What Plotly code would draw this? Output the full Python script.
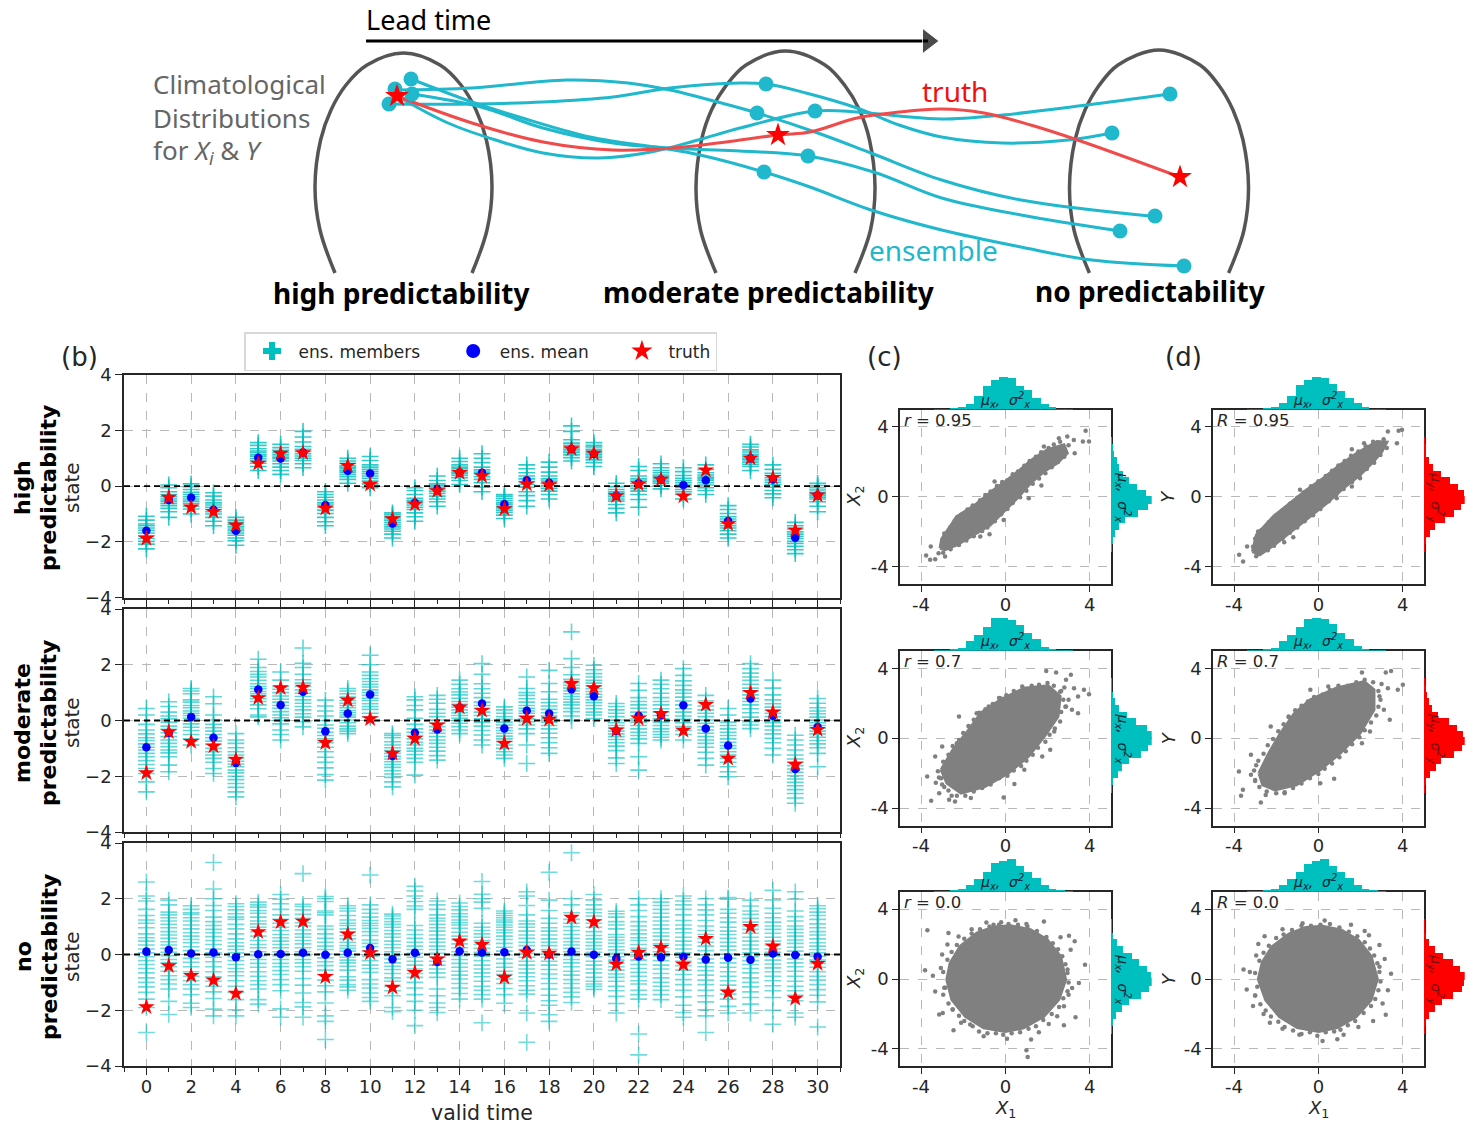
import plotly.graph_objects as go

W, H = 1475, 1129
TEAL = "#00BFBF"
SCH = "#1FB8CC"
DARK = "#262626"
GRID = "#B8B8B8"
FONT = "DejaVu Sans"
SFONT = "Noto Sans"

# ---------------- time-series data -----------------
valid_time = list(range(31))
truth = [-1.88,-0.41,-0.76,-0.92,-1.40,0.81,1.17,1.19,-0.80,0.73,0.06,-1.18,-0.65,-0.17,0.48,0.36,-0.82,0.07,0.04,1.33,1.17,-0.35,0.07,0.24,-0.36,0.57,-1.36,1.00,0.30,-1.58,-0.33]
high_mean = [-1.60,-0.50,-0.41,-0.85,-1.60,1.02,0.99,1.20,-0.68,0.55,0.45,-1.34,-0.60,-0.12,0.49,0.48,-0.65,0.21,0.12,1.33,1.15,-0.35,0.10,0.24,0.04,0.21,-1.25,1.00,0.24,-1.85,-0.33]
mod_mean = [-0.96,-0.44,0.13,-0.62,-1.52,1.11,0.56,1.03,-0.39,0.25,0.93,-1.27,-0.44,-0.32,0.47,0.61,-0.29,0.35,0.25,1.12,0.87,-0.37,0.17,0.19,0.55,-0.29,-0.90,0.79,0.17,-1.74,-0.23]
none_mean = [0.11,0.16,0.04,0.07,-0.10,0.01,0.02,0.06,-0.01,0.06,0.23,-0.17,0.06,-0.27,0.12,0.07,0.08,0.16,0.00,0.11,-0.01,-0.14,-0.07,-0.10,-0.08,-0.18,-0.12,-0.19,0.04,-0.02,-0.08]

high_members = [
 [-2.25,-2.08,-1.98,-1.88,-1.78,-1.68,-1.58,-1.5,-1.42,-1.36,-1.22,-1.08],
 [-1.12,-0.92,-0.8,-0.7,-0.62,-0.54,-0.46,-0.38,-0.3,-0.2,-0.06,0.04],
 [-1.0,-0.82,-0.72,-0.62,-0.54,-0.46,-0.38,-0.3,-0.22,-0.12,-0.02,0.08],
 [-1.42,-1.26,-1.12,-1.0,-0.92,-0.84,-0.76,-0.68,-0.6,-0.5,-0.36,-0.24],
 [-2.12,-1.96,-1.86,-1.76,-1.68,-1.6,-1.54,-1.46,-1.38,-1.3,-1.22,-1.12],
 [0.56,0.7,0.82,0.9,0.98,1.06,1.12,1.2,1.26,1.34,1.46,1.56],
 [0.42,0.56,0.68,0.8,0.9,0.98,1.04,1.12,1.2,1.28,1.38,1.5],
 [0.66,0.8,0.92,1.0,1.08,1.16,1.24,1.32,1.42,1.58,1.76,1.96],
 [-1.42,-1.28,-1.12,-0.98,-0.86,-0.76,-0.68,-0.6,-0.5,-0.4,-0.3,-0.2],
 [0.1,0.24,0.34,0.42,0.5,0.56,0.62,0.68,0.74,0.82,0.9,1.0],
 [-0.06,0.08,0.18,0.28,0.36,0.44,0.52,0.6,0.68,0.76,0.92,1.06],
 [-1.86,-1.72,-1.62,-1.54,-1.46,-1.38,-1.3,-1.22,-1.14,-1.08,-1.02,-0.96],
 [-1.26,-1.1,-0.96,-0.84,-0.76,-0.68,-0.6,-0.52,-0.44,-0.3,-0.16,-0.06],
 [-0.72,-0.56,-0.46,-0.36,-0.26,-0.18,-0.1,-0.04,0.02,0.08,0.2,0.36],
 [0.06,0.2,0.3,0.38,0.44,0.5,0.56,0.62,0.68,0.76,0.88,1.0],
 [-0.2,-0.04,0.12,0.24,0.34,0.44,0.5,0.58,0.68,0.84,1.0,1.16],
 [-1.16,-1.04,-0.94,-0.86,-0.78,-0.72,-0.66,-0.6,-0.52,-0.44,-0.36,-0.3],
 [-0.72,-0.52,-0.34,-0.2,-0.04,0.06,0.16,0.26,0.36,0.48,0.62,0.76],
 [-0.46,-0.3,-0.18,-0.08,0.02,0.1,0.18,0.26,0.36,0.5,0.68,0.86],
 [0.9,1.02,1.12,1.2,1.26,1.32,1.38,1.46,1.54,1.66,1.96,2.16],
 [0.7,0.84,0.94,1.02,1.08,1.14,1.2,1.26,1.32,1.4,1.46,1.56],
 [-0.96,-0.8,-0.66,-0.54,-0.46,-0.38,-0.32,-0.26,-0.2,-0.12,-0.02,0.1],
 [-0.76,-0.48,-0.3,-0.18,-0.08,0.02,0.1,0.18,0.26,0.36,0.56,0.7],
 [-0.1,0.02,0.1,0.16,0.22,0.28,0.34,0.4,0.48,0.56,0.66,0.8],
 [-0.46,-0.3,-0.2,-0.12,-0.04,0.04,0.12,0.2,0.28,0.38,0.52,0.66],
 [-0.3,-0.16,-0.06,0.04,0.12,0.2,0.26,0.32,0.4,0.48,0.6,0.76],
 [-1.86,-1.72,-1.6,-1.5,-1.42,-1.34,-1.26,-1.18,-1.1,-0.98,-0.84,-0.7],
 [0.56,0.7,0.78,0.86,0.94,1.0,1.06,1.14,1.22,1.3,1.4,1.5],
 [-0.42,-0.28,-0.16,-0.04,0.06,0.14,0.22,0.3,0.38,0.46,0.6,0.76],
 [-2.42,-2.28,-2.16,-2.06,-1.98,-1.88,-1.8,-1.72,-1.64,-1.54,-1.42,-1.3],
 [-0.92,-0.72,-0.56,-0.46,-0.4,-0.34,-0.28,-0.22,-0.14,-0.06,0.02,0.1],
]
mod_members = [
 [-2.56,-2.2,-1.9,-1.72,-1.58,-1.44,-1.3,-1.18,-1.06,-0.96,-0.84,-0.72,-0.62,-0.48,-0.34,-0.14,0.2,0.43],
 [-1.84,-1.6,-1.3,-1.16,-1.06,-0.94,-0.82,-0.7,-0.58,-0.44,-0.32,-0.2,-0.06,0.06,0.16,0.3,0.5,0.67],
 [-0.88,-0.66,-0.5,-0.36,-0.24,-0.12,-0.02,0.08,0.18,0.26,0.34,0.46,0.54,0.66,0.74,0.96,1.06,1.15],
 [-1.9,-1.72,-1.5,-1.36,-1.24,-1.12,-1.0,-0.86,-0.74,-0.62,-0.5,-0.38,-0.26,-0.14,0.02,0.2,0.6,0.85],
 [-2.74,-2.56,-2.4,-2.26,-2.12,-2.0,-1.88,-1.78,-1.66,-1.56,-1.46,-1.36,-1.24,-1.12,-0.98,-0.82,-0.7,-0.47],
 [0.13,0.2,0.42,0.56,0.68,0.78,0.86,0.96,1.04,1.14,1.22,1.32,1.44,1.56,1.66,1.76,1.9,2.2],
 [-0.7,-0.5,-0.34,-0.12,0.0,0.1,0.2,0.32,0.44,0.54,0.66,0.76,0.88,1.0,1.12,1.22,1.45,1.74],
 [-0.23,-0.04,0.12,0.24,0.38,0.5,0.62,0.74,0.86,0.98,1.1,1.22,1.34,1.46,1.66,1.9,2.05,2.6],
 [-2.14,-1.94,-1.7,-1.5,-1.32,-1.12,-0.96,-0.8,-0.66,-0.54,-0.42,-0.28,-0.16,0.0,0.16,0.34,0.52,0.73],
 [-0.47,-0.38,-0.3,-0.2,-0.08,0.02,0.12,0.2,0.28,0.36,0.46,0.54,0.62,0.72,0.84,0.96,1.06,1.15],
 [0.13,0.26,0.4,0.5,0.6,0.72,0.8,0.9,1.0,1.1,1.2,1.3,1.4,1.5,1.62,1.74,2.0,2.34],
 [-2.38,-2.2,-2.04,-1.92,-1.8,-1.68,-1.58,-1.48,-1.38,-1.28,-1.18,-1.08,-0.98,-0.88,-0.76,-0.62,-0.54,-0.47],
 [-1.96,-1.5,-1.36,-1.22,-1.1,-1.0,-0.88,-0.78,-0.66,-0.54,-0.42,-0.3,-0.14,0.08,0.38,0.54,0.74,0.85],
 [-1.42,-1.26,-1.1,-0.96,-0.82,-0.7,-0.58,-0.46,-0.34,-0.22,-0.1,0.02,0.14,0.26,0.4,0.62,0.76,0.9],
 [-0.47,-0.34,-0.22,-0.1,0.0,0.08,0.18,0.28,0.38,0.48,0.58,0.68,0.8,0.92,1.02,1.14,1.3,1.45],
 [-0.88,-0.7,-0.52,-0.36,-0.2,-0.06,0.06,0.18,0.3,0.42,0.54,0.66,0.82,0.98,1.14,1.32,1.66,2.04],
 [-1.36,-1.24,-1.12,-1.0,-0.88,-0.76,-0.66,-0.56,-0.46,-0.36,-0.26,-0.16,-0.06,0.04,0.14,0.26,0.38,0.49],
 [-1.54,-0.88,-0.47,-0.3,-0.16,-0.04,0.06,0.16,0.26,0.34,0.44,0.54,0.66,0.78,0.9,1.0,1.15,1.56],
 [-1.18,-0.98,-0.8,-0.62,-0.46,-0.3,-0.18,-0.06,0.06,0.16,0.28,0.4,0.52,0.64,0.76,1.03,1.33,1.8],
 [0.0,0.16,0.32,0.44,0.56,0.66,0.76,0.86,0.96,1.06,1.16,1.26,1.36,1.48,1.64,1.9,2.22,3.18],
 [0.07,0.2,0.3,0.42,0.54,0.64,0.74,0.84,0.94,1.04,1.14,1.24,1.34,1.44,1.56,1.68,1.82,1.98],
 [-1.54,-1.34,-1.08,-0.92,-0.8,-0.68,-0.58,-0.48,-0.38,-0.28,-0.18,-0.08,0.02,0.14,0.26,0.38,0.5,0.61],
 [-1.78,-1.3,-0.82,-0.66,-0.54,-0.42,-0.3,-0.18,-0.06,0.06,0.18,0.3,0.44,0.56,0.68,0.82,1.08,1.33],
 [-0.7,-0.6,-0.5,-0.4,-0.3,-0.18,-0.06,0.06,0.18,0.3,0.42,0.56,0.68,0.82,0.98,1.14,1.3,1.45],
 [-0.7,-0.5,-0.36,-0.22,-0.08,0.04,0.16,0.3,0.42,0.56,0.7,0.84,0.98,1.1,1.26,1.42,1.62,1.86],
 [-1.6,-1.36,-1.14,-0.96,-0.82,-0.7,-0.58,-0.46,-0.34,-0.22,-0.1,0.02,0.14,0.26,0.38,0.52,0.7,0.9],
 [-2.02,-1.84,-1.66,-1.5,-1.36,-1.24,-1.12,-1.0,-0.9,-0.78,-0.66,-0.54,-0.42,-0.3,-0.18,-0.06,0.2,0.43],
 [-0.29,-0.16,-0.04,0.12,0.28,0.42,0.56,0.68,0.8,0.92,1.04,1.16,1.3,1.44,1.56,1.7,1.86,2.04],
 [-1.24,-1.0,-0.8,-0.64,-0.48,-0.34,-0.2,-0.08,0.02,0.14,0.26,0.36,0.48,0.6,0.74,0.92,1.16,1.45],
 [-2.97,-2.78,-2.62,-2.48,-2.34,-2.22,-2.1,-1.98,-1.86,-1.74,-1.62,-1.5,-1.38,-1.24,-1.06,-0.88,-0.7,-0.53],
 [-1.66,-1.18,-0.98,-0.84,-0.72,-0.6,-0.48,-0.38,-0.28,-0.18,-0.08,0.02,0.12,0.24,0.34,0.46,0.62,0.79],
]
none_members = [
 [-2.8,-1.9,-1.6,-1.36,-1.16,-1.0,-0.84,-0.66,-0.5,-0.36,-0.22,-0.08,0.06,0.2,0.34,0.48,0.6,0.74,0.96,1.12,1.24,1.4,1.62,1.92,2.1,2.6],
 [-2.15,-1.68,-1.24,-1.06,-0.9,-0.76,-0.6,-0.44,-0.3,-0.18,-0.04,0.08,0.22,0.34,0.46,0.58,0.7,0.82,0.96,1.08,1.2,1.32,1.42,1.52,1.78,1.95],
 [-1.9,-1.75,-1.44,-1.24,-1.08,-0.94,-0.78,-0.62,-0.44,-0.28,-0.14,0.0,0.14,0.28,0.42,0.54,0.66,0.78,0.92,1.06,1.2,1.32,1.44,1.5,1.62,1.75],
 [-2.2,-1.96,-1.58,-1.34,-1.14,-0.96,-0.8,-0.62,-0.44,-0.26,-0.1,0.06,0.2,0.36,0.5,0.64,0.78,0.9,1.04,1.18,1.34,1.58,1.76,2.0,2.35,3.3],
 [-2.2,-1.98,-1.62,-1.36,-1.14,-0.94,-0.76,-0.62,-0.5,-0.36,-0.22,-0.08,0.06,0.18,0.3,0.42,0.56,0.74,0.92,1.08,1.26,1.34,1.46,1.6,1.72,1.82],
 [-1.78,-1.62,-1.24,-1.08,-0.94,-0.78,-0.62,-0.46,-0.32,-0.18,-0.04,0.1,0.24,0.36,0.5,0.66,0.82,0.98,1.1,1.2,1.34,1.48,1.58,1.7,1.78,1.88],
 [-2.25,-1.95,-1.3,-1.08,-0.9,-0.72,-0.58,-0.44,-0.32,-0.18,-0.04,0.1,0.24,0.36,0.48,0.6,0.72,0.86,0.98,1.12,1.26,1.42,1.62,1.82,1.98,2.15],
 [-2.25,-1.88,-1.72,-1.38,-1.1,-0.86,-0.6,-0.44,-0.3,-0.18,-0.04,0.1,0.24,0.38,0.5,0.62,0.74,0.88,1.02,1.14,1.3,1.44,1.6,1.72,1.8,2.9],
 [-3.05,-2.4,-2.2,-1.74,-1.34,-1.12,-0.92,-0.72,-0.56,-0.4,-0.26,-0.12,0.02,0.18,0.3,0.44,0.58,0.74,0.9,1.02,1.42,1.5,1.56,1.9,2.0,2.08],
 [-1.28,-1.16,-1.08,-0.92,-0.8,-0.56,-0.42,-0.3,-0.2,-0.1,0.0,0.12,0.22,0.32,0.44,0.56,0.68,0.8,0.92,1.04,1.12,1.24,1.4,1.56,1.66,1.75],
 [-1.68,-1.54,-1.38,-1.2,-1.06,-0.9,-0.64,-0.5,-0.38,-0.22,-0.06,0.12,0.28,0.4,0.52,0.68,0.82,0.94,1.04,1.12,1.22,1.34,1.48,1.62,1.78,2.85],
 [-2.05,-1.9,-1.48,-1.3,-1.14,-0.96,-0.84,-0.68,-0.54,-0.42,-0.3,-0.16,-0.04,0.1,0.24,0.36,0.48,0.62,0.74,0.86,0.98,1.08,1.18,1.28,1.38,1.45],
 [-2.55,-2.0,-1.68,-1.44,-1.2,-1.0,-0.82,-0.68,-0.52,-0.38,-0.24,-0.1,0.04,0.18,0.3,0.44,0.58,0.72,0.88,1.04,1.62,1.74,1.9,2.1,2.28,2.45],
 [-2.08,-1.9,-1.74,-1.48,-1.24,-0.82,-0.66,-0.52,-0.38,-0.24,-0.1,0.04,0.18,0.3,0.44,0.56,0.7,0.84,0.96,1.08,1.2,1.3,1.42,1.62,1.78,1.92],
 [-1.6,-1.4,-1.2,-1.04,-0.88,-0.74,-0.6,-0.46,-0.32,-0.18,-0.04,0.1,0.24,0.38,0.52,0.66,0.8,0.94,1.06,1.14,1.24,1.36,1.46,1.6,1.72,1.85],
 [-2.45,-1.6,-1.44,-1.28,-1.14,-0.96,-0.8,-0.66,-0.52,-0.38,-0.22,-0.06,0.08,0.22,0.36,0.5,0.62,0.74,0.86,0.98,1.12,1.66,1.88,2.0,2.16,2.62],
 [-1.75,-1.44,-1.22,-1.04,-0.88,-0.72,-0.6,-0.46,-0.32,-0.16,-0.02,0.12,0.26,0.4,0.54,0.66,0.78,0.88,0.98,1.06,1.16,1.24,1.32,1.4,1.48,1.56],
 [-3.15,-2.1,-1.42,-1.28,-1.12,-0.94,-0.8,-0.66,-0.52,-0.38,-0.24,-0.1,0.04,0.18,0.32,0.44,0.58,0.7,0.84,0.98,1.1,1.2,1.42,1.76,2.1,2.25],
 [-2.4,-2.16,-1.82,-1.66,-1.46,-1.24,-1.04,-0.86,-0.7,-0.54,-0.38,-0.24,-0.1,0.04,0.18,0.32,0.44,0.56,0.7,0.84,0.96,1.12,1.3,1.58,1.95,2.95],
 [-1.72,-1.52,-1.36,-1.2,-1.04,-0.9,-0.74,-0.6,-0.44,-0.3,-0.18,-0.04,0.1,0.22,0.34,0.46,0.58,0.72,0.86,1.0,1.12,1.26,1.5,1.78,2.0,3.65],
 [-1.25,-1.14,-1.06,-0.96,-0.82,-0.66,-0.52,-0.38,-0.24,-0.08,0.08,0.2,0.32,0.44,0.56,0.68,0.82,0.98,1.12,1.24,1.38,1.5,1.62,1.78,1.96,2.15],
 [-2.1,-1.76,-1.5,-1.3,-1.14,-0.96,-0.82,-0.7,-0.56,-0.44,-0.32,-0.2,-0.08,0.04,0.16,0.28,0.4,0.52,0.62,0.72,0.92,1.06,1.18,1.34,1.46,1.55],
 [-3.6,-2.85,-1.6,-1.44,-1.28,-1.06,-0.94,-0.78,-0.64,-0.5,-0.36,-0.2,-0.06,0.08,0.22,0.36,0.5,0.6,0.74,0.88,1.02,1.18,1.36,1.58,1.78,2.0],
 [-1.62,-1.44,-1.28,-1.14,-1.0,-0.84,-0.68,-0.52,-0.38,-0.22,-0.06,0.1,0.24,0.38,0.52,0.66,0.78,0.92,1.06,1.2,1.34,1.48,1.62,1.76,1.88,2.0],
 [-2.25,-2.08,-1.82,-1.52,-1.28,-1.08,-0.9,-0.72,-0.56,-0.4,-0.24,-0.1,0.06,0.2,0.34,0.48,0.62,0.78,0.92,1.06,1.22,1.42,1.62,1.78,1.92,2.1],
 [-2.8,-2.2,-1.98,-1.7,-1.48,-1.28,-1.08,-0.92,-0.74,-0.58,-0.44,-0.3,-0.16,-0.02,0.14,0.3,0.44,0.58,0.72,0.86,1.02,1.22,1.42,1.6,1.78,2.0],
 [-2.1,-1.86,-1.6,-1.42,-1.26,-1.1,-0.94,-0.78,-0.62,-0.46,-0.3,-0.14,0.02,0.16,0.3,0.44,0.58,0.72,0.84,0.98,1.16,1.32,1.48,1.62,1.98,2.04],
 [-2.1,-1.78,-1.54,-1.34,-1.16,-1.0,-0.84,-0.66,-0.5,-0.36,-0.22,-0.08,0.06,0.2,0.34,0.48,0.62,0.76,0.9,1.02,1.16,1.3,1.44,1.56,1.74,1.95],
 [-2.5,-2.0,-1.54,-1.3,-1.12,-0.94,-0.78,-0.62,-0.48,-0.34,-0.2,-0.06,0.08,0.2,0.34,0.48,0.62,0.76,0.9,1.02,1.16,1.32,1.48,1.66,1.96,2.3],
 [-2.25,-2.1,-1.66,-1.46,-1.3,-1.14,-0.96,-0.78,-0.6,-0.44,-0.3,-0.16,-0.02,0.12,0.26,0.4,0.52,0.66,0.78,0.9,1.02,1.2,1.36,1.56,1.98,2.25],
 [-2.6,-1.7,-1.46,-1.26,-1.08,-0.92,-0.78,-0.62,-0.46,-0.32,-0.2,-0.06,0.06,0.18,0.3,0.42,0.56,0.7,0.82,0.96,1.1,1.26,1.4,1.52,1.64,1.75],
]

# ---------------- scatter clouds (outline + edge + stray points) -----------------
c1_outline_x = [-3.1,-3.02,-2.3,-1.43,-0.56,0,0.71,1.27,1.98,2.78,2.94,2.46,1.83,1.19,0.56,-0.08,-0.71,-1.51,-2.3,-2.86]
c1_outline_y = [-2.94,-2.4,-1.13,-0.46,0.4,0.88,1.55,2.12,2.69,2.98,2.5,1.93,1.45,0.78,-0.08,-0.84,-1.6,-2.18,-2.75,-3.03]
c1_stray_x = [3.81,3.97,3.68,3.25,2.94,2.54,1.83,3.29,-3.76,-3.57,-3.54,-3.33,-3.17,-2.62,-2.3,-0.51,-1.19,-0.75,-0.08,1.71,1.11,-2.86,2.6,3.0,-2.7,-2.95,-2.9,-2.6,-2.4,-2.05,-1.8,-1.55,-1.2,-0.95,-0.7,-0.4,-0.15,0.1,0.35,0.6,0.9,1.15,1.45,1.7,2.05,2.3,-2.6,-2.2,-1.85,-1.5,-1.1,-0.85,-0.5,-0.2,0.1,0.35,0.7,1.0,1.3,1.6,1.9,2.2,2.5,2.8]
c1_stray_y = [3.78,3.17,3.17,3.26,3.45,3.36,2.88,2.5,-3.36,-3.6,-2.84,-3.57,-3.23,-1.76,-1.18,0.88,-2.27,-2.14,-1.32,0.65,-0.08,-3.42,3.15,2.95,-2.15,-3.2,-2.1,-1.75,-1.35,-1.0,-0.72,-0.5,-0.2,0.1,0.3,0.62,0.85,0.95,1.3,1.45,1.78,2.05,2.3,2.55,2.8,3.0,-3.0,-2.75,-2.5,-2.25,-1.95,-1.75,-1.4,-1.0,-0.7,-0.35,-0.02,0.35,0.75,1.05,1.35,1.7,2.0,2.3]
d1_outline_x = [-3.13,-2.94,-2.14,-1.43,-0.56,0.24,1.03,1.83,2.78,3.25,3.02,2.62,1.98,1.19,0.4,-0.4,-1.19,-1.98,-2.78]
d1_outline_y = [-3.13,-2.18,-1.13,-0.46,0.4,1.07,1.83,2.5,3.17,3.13,2.6,2.02,1.26,0.5,-0.36,-1.13,-1.89,-2.65,-3.32]
d1_stray_x = [3.3,3.81,3.97,3.73,3.25,2.17,1.59,-3.76,-3.57,-3.38,-2.86,-0.87,-1.62,-1.19,1.59,0.87,1.98,3.1,-3.1,-2.95,-3.0,-2.7,-2.35,-2.0,-1.7,-1.35,-1.0,-0.7,-0.35,0,0.35,0.65,0.95,1.25,1.55,1.9,2.25,2.6,-2.4,-2.1,-1.7,-1.35,-1.0,-0.65,-0.25,0.1,0.5,0.85,1.2,1.6,1.95,2.3,2.65,2.95]
d1_stray_y = [3.74,3.78,3.84,3.07,2.79,3.07,2.73,-3.32,-3.7,-2.84,-1.98,0.4,-2.6,-2.31,0.59,-0.08,1.07,3.3,-2.85,-3.4,-2.4,-1.9,-1.45,-1.05,-0.78,-0.4,-0.05,0.25,0.6,0.9,1.2,1.5,1.8,2.05,2.35,2.6,2.9,3.15,-3.05,-2.8,-2.4,-2.05,-1.75,-1.4,-1.05,-0.7,-0.25,0.12,0.45,0.85,1.2,1.6,1.95,2.4]
c2_outline_x = [-3.05,-2.49,-1.73,-1.17,-0.23,0.9,2.03,2.6,2.5,1.85,1.09,0.15,-0.98,-2.1,-2.77]
c2_outline_y = [-1.81,-0.67,0.48,1.43,2.19,2.86,3.0,2.39,1.24,0.1,-1.05,-2.0,-2.77,-3.15,-2.58]
c2_stray_x = [-3.52,-2.67,-2.39,-3.14,-3.71,-3.33,-3.0,-2.2,-0.08,0.43,-1.64,1.94,2.41,3.11,3.73,3.97,3.45,3.26,2.88,3.45,3.16,2.88,2.13,1.75,2.32,0.9,-0.23,-0.79,-1.36,-1.73,-2.3,-3.3,-2.9,-3.05,-2.55,2.8,3.0,2.6,-3.2,-2.95,-2.7,-2.5,-2.2,-2.0,-1.75,-1.5,-1.25,-0.95,-0.6,-0.3,0.05,0.4,0.8,1.25,1.6,2.0,2.3,2.65,2.75,2.85,2.65,2.6,2.35,2.1,1.9,1.55,1.3,1.0,0.75,0.4,0.1,-0.3,-0.7,-1.1,-1.5,-1.9,-2.3,-2.7,-3.0,-3.15]
c2_stray_y = [-3.59,-3.53,-3.63,-3.15,-2.19,-1.05,-0.48,1.24,-3.4,-2.63,-3.43,3.85,3.76,3.63,2.77,2.52,2.39,2.86,3.34,1.43,1.62,1.81,-0.67,-1.05,0.38,-1.81,2.29,1.81,1.43,0.67,-0.29,-2.55,-2.8,-2.3,-3.3,2.9,2.2,2.65,-1.9,-1.35,-0.95,-0.45,-0.1,0.3,0.7,1.05,1.45,1.65,1.95,2.3,2.45,2.7,2.95,3.0,3.05,3.15,3.0,2.7,2.2,1.8,1.5,0.95,0.55,0.2,-0.2,-0.55,-0.95,-1.3,-1.6,-1.85,-2.15,-2.3,-2.65,-2.85,-3.05,-3.3,-3.3,-3.0,-2.65,-2.25]
d2_outline_x = [-2.82,-2.35,-1.79,-1.13,-0.38,0.85,2.17,2.64,2.64,1.98,1.04,0.09,-1.04,-2.07,-2.64]
d2_outline_y = [-2.0,-0.86,0.29,1.43,2.19,2.86,3.24,2.77,1.62,0.29,-0.86,-1.81,-2.67,-2.96,-2.67]
d2_stray_x = [-3.58,-3.67,-2.73,-3.77,-3.2,-3.2,2.07,3.2,3.45,4.01,3.77,3.3,3.39,3.11,0.47,-0.38,-1.41,-2.26,0.75,0.09,-1.6,2.07,2.45,-2.95,-3.0,-2.5,2.9,3.0,-3.05,-2.85,-2.6,-2.4,-2.15,-1.9,-1.65,-1.4,-1.1,-0.8,-0.5,-0.2,0.2,0.55,0.95,1.4,1.8,2.2,2.6,2.85,2.95,2.85,2.75,2.5,2.2,1.95,1.6,1.3,1.0,0.65,0.3,0,-0.4,-0.8,-1.2,-1.6,-2.0,-2.45,-2.8,-3.0]
d2_stray_y = [-2.96,-3.3,-3.68,-1.91,-0.95,-2.1,3.76,3.76,3.85,3.05,2.77,2.86,1.05,1.62,2.96,2.77,1.24,0.67,-2.33,-2.58,-3.15,-0.29,0.38,-1.55,-2.45,-3.25,2.4,3.1,-1.85,-1.3,-0.9,-0.4,-0.05,0.4,0.8,1.2,1.6,1.85,2.1,2.35,2.5,2.75,3.0,3.0,3.2,3.35,3.2,2.7,2.2,1.8,1.3,0.9,0.45,0.05,-0.35,-0.75,-1.1,-1.45,-1.75,-2.05,-2.3,-2.6,-2.85,-3.1,-3.15,-3.05,-2.8,-2.4]
c3_outline_x = [-2.78,-2.62,-2.14,-1.35,-0.56,0.24,1.19,1.98,2.62,2.86,2.54,1.83,0.87,0,-1.03,-1.9,-2.54]
c3_outline_y = [-0.04,0.92,1.87,2.63,2.98,3.05,2.82,2.25,1.3,-0.04,-1.18,-2.14,-2.8,-3.0,-2.8,-2.14,-1.18]
c3_stray_x = [-3.7,-3.81,-3.44,-3.33,-3.14,-2.97,-2.46,-2.7,-2.22,-2.75,-3.06,-0.9,-0.56,0.48,1.83,2.62,3.02,3.29,3.1,3.78,3.49,3.17,3.33,2.78,2.06,1.59,1.22,1.0,1.06,0.08,-1.03,-1.67,2.78,2.46,-2.9,-3.0,-1.6,1.0,-0.2,2.95,3.0,-2.5,-2.1,-2.95,-2.85,-2.95,-2.7,-2.5,-2.2,-1.95,-1.55,-1.25,-0.85,-0.45,-0.1,0.3,0.7,1.1,1.45,1.8,2.2,2.55,2.75,2.95,3.0,2.95,2.85,2.7,2.5,2.25,1.95,1.5,1.05,0.6,0.15,-0.3,-0.75,-1.2,-1.6,-1.95,-2.3,-2.55,-2.75]
c3_stray_y = [2.79,0.5,0.19,-0.71,-2.04,-1.95,-2.94,2.63,2.44,1.97,0.63,3.24,3.11,3.36,3.3,2.39,2.48,2.16,1.68,0.82,-0.23,-0.52,-2.19,-2.65,-2.58,-3.05,-3.47,-4.08,-4.47,-3.42,-3.28,-2.61,-1.56,-2.14,-0.5,1.4,2.85,3.15,3.25,0.55,-0.9,-1.75,-2.5,0.4,-0.5,-0.9,-1.4,-1.75,-2.1,-2.4,-2.7,-3.0,-3.1,-3.1,-3.2,-3.1,-3.05,-2.85,-2.7,-2.35,-2.0,-1.6,-1.1,-0.7,-0.2,0.35,0.85,1.3,1.7,2.05,2.4,2.75,3.0,3.1,3.15,3.1,3.0,2.85,2.6,2.3,1.95,1.55,1.1]
d3_outline_x = [-2.85,-2.66,-2.2,-1.4,-0.6,0.2,1.1,1.9,2.5,2.8,2.5,1.8,0.9,0.02,-1.0,-1.85,-2.5]
d3_outline_y = [-0.02,0.95,1.85,2.58,2.95,3.02,2.8,2.22,1.3,0.0,-1.2,-2.15,-2.78,-3.0,-2.78,-2.15,-1.2]
d3_stray_x = [-3.55,-3.4,-3.25,-3.1,-2.95,-2.55,-2.3,-1.7,-0.75,0.3,1.55,2.4,2.9,3.15,3.45,3.3,3.05,3.2,2.6,1.9,1.2,0.2,-0.9,-1.7,-2.6,-3.0,2.2,2.9,-2.85,0.9,-3.0,-2.9,-3.0,-2.75,-2.5,-2.25,-1.9,-1.6,-1.2,-0.8,-0.4,-0.05,0.35,0.75,1.05,1.4,1.75,2.15,2.5,2.7,2.85,2.95,2.9,2.8,2.65,2.45,2.2,1.85,1.45,1.0,0.55,0.1,-0.35,-0.8,-1.25,-1.65,-2.0,-2.35,-2.6,-2.8]
d3_stray_y = [0.55,-0.6,0.4,-1.55,1.35,2.45,-2.5,2.85,3.2,3.35,3.1,2.5,1.95,1.15,0.3,-0.65,-1.4,-2.05,-2.4,-2.75,-3.2,-3.55,-3.2,-2.85,-2.0,-0.95,2.75,0.7,2.0,-3.45,0.35,-0.45,-0.95,-1.45,-1.8,-2.15,-2.45,-2.75,-2.95,-3.15,-3.05,-3.25,-3.05,-3.0,-2.9,-2.65,-2.4,-1.95,-1.55,-1.15,-0.65,-0.15,0.4,0.9,1.35,1.75,2.1,2.45,2.7,2.95,3.15,3.1,3.05,3.05,2.8,2.55,2.35,1.9,1.5,1.05]

# ---------------- histograms -----------------
top_bins = [-3.2,-2.81,-2.43,-2.03,-1.65,-1.27,-0.87,-0.48,-0.09,0.3,0.68,1.08,1.47,1.85,2.22,2.62,3.0]
right_bins = [3.2,2.85,2.45,2.1,1.7,1.3,0.95,0.55,0.2,-0.15,-0.5,-0.9,-1.25,-1.65,-2.05,-2.45,-2.9]
top_h1c = [0.005,0.015,0.04,0.09,0.18,0.43,0.73,0.92,1,0.97,0.72,0.6,0.36,0.18,0.09,0.03,0.006]
top_h1d = [0.005,0.015,0.04,0.09,0.2,0.42,0.75,0.9,1,0.98,0.78,0.58,0.36,0.2,0.09,0.03,0.006]
top_h2c = [0.005,0.01,0.04,0.1,0.3,0.47,0.72,1,1,0.95,0.8,0.55,0.35,0.12,0.06,0.03,0.006]
top_h2d = [0.005,0.01,0.04,0.1,0.3,0.47,0.72,0.98,1,0.97,0.82,0.55,0.35,0.14,0.06,0.03,0.006]
top_h3c = [0.006,0.015,0.04,0.08,0.2,0.4,0.6,0.87,0.93,1,0.78,0.6,0.42,0.22,0.1,0.04,0.015]
top_h3d = [0.006,0.015,0.04,0.09,0.2,0.4,0.62,0.85,0.95,1,0.8,0.6,0.42,0.22,0.1,0.04,0.015]
right_h1c = [0.01,0.025,0.08,0.14,0.2,0.3,0.43,0.63,0.85,1,0.9,0.66,0.35,0.2,0.1,0.03,0.01]
right_h1d = [0.01,0.025,0.06,0.12,0.22,0.42,0.64,0.84,0.97,1,0.9,0.72,0.5,0.27,0.15,0.06,0.015]
right_h2c = [0.01,0.015,0.03,0.1,0.2,0.38,0.62,0.88,1,1,0.9,0.72,0.45,0.28,0.17,0.05,0.015]
right_h2d = [0.01,0.025,0.08,0.12,0.2,0.35,0.6,0.8,0.95,1,0.92,0.72,0.42,0.3,0.15,0.05,0.015]
right_h3c = [0.01,0.02,0.05,0.14,0.3,0.5,0.68,0.88,0.98,1,0.92,0.72,0.45,0.28,0.12,0.06,0.02]
right_h3d = [0.01,0.02,0.05,0.12,0.27,0.46,0.7,0.88,1,0.98,0.93,0.7,0.45,0.28,0.13,0.05,0.015]

# ---------------- schematic (a) -----------------
ell1_x = [335,320,315,320.6,331,346,367,403.5,440,461,476,486.4,492,487,472]
ell2_x = [716,700.5,696,701.5,711.5,726.5,746,785.5,825,844.5,859.5,869.5,875,870.5,855]
ell3_x = [1089.4,1074,1069.5,1075,1085,1099.4,1118,1159,1200,1218.6,1233,1243,1248.5,1244,1228.6]
ell1_y = [273,230,187,140,110,85,65,53,65,85,110,140,187,230,273]
ell2_y = [273,230,187,140,110,85,65,51,65,85,110,140,187,230,273]
ell3_y = [273,230,187,140,110,85,65,50,65,85,110,140,187,230,273]
ens_a_x = [395,472,566,628,670,725,757,815,871,941.6,1021,1155]
ens_a_y = [90,88,80,83,90,104,113,132,153,180,200,216.5]
ens_b_x = [389,472,543,613,670,740,767,806,857,899,941.6,1002.5,1068,1112]
ens_b_y = [104,104,102,97,88,83,84,93,108,125,137,143,140,133]
ens_c_x = [397,448,495.5,543,599,651,698,740,815,857,899,941.6,1002.5,1087,1170]
ens_c_y = [96,123,140,153,158,152,140,128,111,112,116,119,115,105,94]
ens_d_x = [412,481,543,613,689,740,808,873.6,941.6,1021,1120]
ens_d_y = [94,107,128,143,149,151,156,172,198,215,231]
ens_e_x = [411,472,519,590,661,700,764,810,871,941.6,1021,1091.6,1184]
ens_e_y = [79,102,117,137,148,155,172,187,210,230,247,260,266]
truth_path_x = [397,472,543,613,684,778,810,857,899,941.6,984,1030.7,1077.5,1180]
truth_path_y = [96,123,142,150,147,135,132,118,112,109,113,125,140,177]
ens_dot_x = [395,411,412,389,766,757,815,808,764,1170,1112,1155,1120,1184]
ens_dot_y = [89,79,94,104,84,113,111,156,172,94,133,216,231,266]
truth_star_x = [397,778,1180]
truth_star_y = [96,135,177]
arrow_x = [366,928]
arrow_y = [41,41]

# ---------------- layout helpers -----------------
def dx(p): return p / W
def dy(p): return 1 - p / H

fig = go.Figure()
layout = {}
annotations = []

def note(px, py, text, size, color="black", family=FONT, angle=0, xanchor="center", yanchor="middle"):
    annotations.append(dict(x=dx(px), y=dy(py), xref="paper", yref="paper", text=text, showarrow=False,
                            font=dict(size=size, color=color, family=family), textangle=angle,
                            xanchor=xanchor, yanchor=yanchor))

layout["xaxis"] = dict(domain=[0, 1], range=[0, W], visible=False, fixedrange=True)
layout["yaxis"] = dict(domain=[0, 1], range=[H, 0], visible=False, fixedrange=True)
for ex, ey in [(ell1_x, ell1_y), (ell2_x, ell2_y), (ell3_x, ell3_y)]:
    fig.add_trace(go.Scatter(x=ex, y=ey, mode="lines", line=dict(color="#555555", width=3.5, shape="spline", smoothing=1.0),
                             showlegend=False, hoverinfo="skip"))
for ex, ey in [(ens_a_x, ens_a_y), (ens_b_x, ens_b_y), (ens_c_x, ens_c_y), (ens_d_x, ens_d_y), (ens_e_x, ens_e_y)]:
    fig.add_trace(go.Scatter(x=ex, y=ey, mode="lines", line=dict(color=SCH, width=3, shape="spline", smoothing=1.0),
                             showlegend=False, hoverinfo="skip"))
fig.add_trace(go.Scatter(x=truth_path_x, y=truth_path_y, mode="lines", line=dict(color="#F04B4B", width=3, shape="spline", smoothing=1.0),
                         showlegend=False, hoverinfo="skip"))
fig.add_trace(go.Scatter(x=ens_dot_x, y=ens_dot_y, mode="markers", marker=dict(color=SCH, size=15), showlegend=False, hoverinfo="skip"))
fig.add_trace(go.Scatter(x=truth_star_x, y=truth_star_y, mode="markers", marker=dict(color="#FF0000", symbol="star", size=18), showlegend=False, hoverinfo="skip"))
fig.add_trace(go.Scatter(x=arrow_x, y=arrow_y, mode="lines+markers", line=dict(color="black", width=3.2),
                         marker=dict(color="black", symbol=["circle", "triangle-right"], size=[0, 22]), showlegend=False, hoverinfo="skip"))

note(364, 20, "Lead time", 27, family=SFONT, xanchor="left")
note(151, 84, "Climatological", 26, "#666666", SFONT, xanchor="left")
note(151, 118, "Distributions", 26, "#666666", SFONT, xanchor="left")
note(151, 151, "for <i>X<sub>i</sub></i> &amp; <i>Y</i>", 26, "#666666", SFONT, xanchor="left")
note(955, 91, "truth", 28, "#F01010", SFONT)
note(933, 250, "ensemble", 28, SCH, SFONT)
note(401, 293, "<b>high predictability</b>", 28, family=SFONT)
note(768, 292, "<b>moderate predictability</b>", 28, family=SFONT)
note(1150, 291, "<b>no predictability</b>", 28, family=SFONT)

# ---------------- time-series panels -----------------
ts_panels = [(374.5, 597.7, high_members, high_mean, "high", 488, 0.8),
             (609, 832, mod_members, mod_mean, "moderate", 723, 0.62),
             (843, 1066, none_members, none_mean, "no", 957, 0.55)]
axis_id = 2
for row, (top, bot, members, mean, name, mid, alpha) in enumerate(ts_panels):
    xn, yn = f"x{axis_id}", f"y{axis_id}"
    last = row == 2
    layout[f"xaxis{axis_id}"] = dict(domain=[dx(124), dx(840)], range=[-1, 31], anchor=yn, dtick=2, tick0=0,
        showticklabels=last, ticks="outside", ticklen=7, tickwidth=1.3, tickcolor=DARK, ticklabelstandoff=-3,
        minor=dict(dtick=1, tick0=0, ticks="outside", ticklen=4, tickwidth=1, tickcolor=DARK, showgrid=False),
        showgrid=True, gridcolor=GRID, griddash="dash", gridwidth=1.3, zeroline=False,
        showline=True, mirror=True, linecolor=DARK, linewidth=1.6,
        tickfont=dict(size=18, family=FONT, color=DARK))
    layout[f"yaxis{axis_id}"] = dict(domain=[dy(bot), dy(top)], range=[-4, 4], anchor=xn, dtick=2,
        ticks="outside", ticklen=7, tickwidth=1.3, tickcolor=DARK,
        showgrid=True, gridcolor=GRID, griddash="dash", gridwidth=1.3, zeroline=False,
        showline=True, mirror=True, linecolor=DARK, linewidth=1.6,
        tickfont=dict(size=18, family=FONT, color=DARK))
    mx = [t for t, vals in zip(valid_time, members) for _ in vals]
    my = [v for vals in members for v in vals]
    fig.add_trace(go.Scatter(x=mx, y=my, mode="markers", xaxis=xn, yaxis=yn, showlegend=False,
                             marker=dict(symbol="cross-thin", size=12, color=TEAL, opacity=alpha,
                                         line=dict(color=TEAL, width=1.6))))
    fig.add_trace(go.Scatter(x=[-1, 31], y=[0, 0], mode="lines", xaxis=xn, yaxis=yn, showlegend=False,
                             line=dict(color="black", width=1.8, dash="6px,4px"), hoverinfo="skip"))
    fig.add_trace(go.Scatter(x=valid_time, y=mean, mode="markers", xaxis=xn, yaxis=yn, showlegend=False,
                             marker=dict(color="#0000FF", size=8.5)))
    fig.add_trace(go.Scatter(x=valid_time, y=truth, mode="markers", xaxis=xn, yaxis=yn, showlegend=False,
                             marker=dict(color="#FF0000", symbol="star", size=12.5)))
    note(72, mid, "state", 20, DARK, angle=-90)
    note(23, mid, f"<b>{name}</b>", 22, angle=-90)
    note(49, mid, "<b>predictability</b>", 22, angle=-90)
    axis_id += 1
note(482, 1113, "valid time", 20.5, DARK)

PAD = "\u00a0\u00a0\u00a0\u00a0"
for nm, sym, col, sz in [("ens. members" + PAD, "cross", TEAL, 15), ("ens. mean" + PAD, "circle", "#0000FF", 14), ("truth", "star", "#FF0000", 20)]:
    fig.add_trace(go.Scatter(x=[None], y=[None], mode="markers", name=nm, xaxis="x2", yaxis="y2",
                             marker=dict(symbol=sym, color=col, size=sz)))

note(79, 357, "(b)", 26, DARK)
note(884, 357, "(c)", 26, DARK)
note(1183, 357, "(d)", 26, DARK)

# ---------------- scatter + marginal panels -----------------
tick_vals = [-4, 0, 4]
tick_text = ["-4", "0", "4"]
rows = [
    (409.5, 584.2, "0.95", 0,
     (c1_outline_x, c1_outline_y, c1_stray_x, c1_stray_y, top_h1c, right_h1c),
     (d1_outline_x, d1_outline_y, d1_stray_x, d1_stray_y, top_h1d, right_h1d)),
    (650.8, 825.5, "0.7", 1,
     (c2_outline_x, c2_outline_y, c2_stray_x, c2_stray_y, top_h2c, right_h2c),
     (d2_outline_x, d2_outline_y, d2_stray_x, d2_stray_y, top_h2d, right_h2d)),
    (891.7, 1066.3, "0.0", 2,
     (c3_outline_x, c3_outline_y, c3_stray_x, c3_stray_y, top_h3c, right_h3c),
     (d3_outline_x, d3_outline_y, d3_stray_x, d3_stray_y, top_h3d, right_h3d)),
]
cols = [(900, 1110.7, "r", "<i>X</i><sub>2</sub>", TEAL, "x"), (1213, 1423.7, "R", "<i>Y</i>", "#FF0000", "y")]
for top, bot, rtxt, row, cdata, ddata in rows:
    for (left, right, rname, ylab, rcolor, sub), data in zip(cols, (cdata, ddata)):
        ox, oy, sx, sy, ht, hr = data
        xn, yn = f"x{axis_id}", f"y{axis_id}"
        layout[f"xaxis{axis_id}"] = dict(domain=[dx(left), dx(right)], range=[-5, 5], anchor=yn,
            tickvals=tick_vals, ticktext=tick_text, ticks="outside", ticklen=6, tickwidth=1.3, tickcolor=DARK, ticklabelstandoff=-3,
            showgrid=True, gridcolor=GRID, griddash="dash", gridwidth=1.3, zeroline=False,
            showline=True, mirror=True, linecolor=DARK, linewidth=1.6,
            tickfont=dict(size=18, family=FONT, color=DARK))
        layout[f"yaxis{axis_id}"] = dict(domain=[dy(bot), dy(top)], range=[-5, 5], anchor=xn,
            tickvals=tick_vals, ticktext=tick_text, ticks="outside", ticklen=6, tickwidth=1.3, tickcolor=DARK,
            showgrid=True, gridcolor=GRID, griddash="dash", gridwidth=1.3, zeroline=False,
            showline=True, mirror=True, linecolor=DARK, linewidth=1.6,
            tickfont=dict(size=18, family=FONT, color=DARK))
        fig.add_trace(go.Scatter(x=ox + ox[:1], y=oy + oy[:1], mode="lines", fill="toself", fillcolor="#808080",
                                 line=dict(color="#808080", width=3),
                                 xaxis=xn, yaxis=yn, showlegend=False, hoverinfo="skip"))
        fig.add_trace(go.Scatter(x=sx, y=sy, mode="markers", marker=dict(color="#808080", size=4.5),
                                 xaxis=xn, yaxis=yn, showlegend=False))
        note(left + 2, top + 11, f"<i>{rname}</i> = {rtxt}", 16.5, DARK, xanchor="left")
        note(left - 45, (top + bot) / 2, ylab, 18, DARK, angle=-90)
        if row == 2:
            note((left + right) / 2, 1109, "<i>X</i><sub>1</sub>", 18, DARK)
        axis_id += 1
        xn, yn = f"x{axis_id}", f"y{axis_id}"
        layout[f"xaxis{axis_id}"] = dict(domain=[dx(left), dx(right)], range=[-5, 5], anchor=yn, visible=False)
        layout[f"yaxis{axis_id}"] = dict(domain=[dy(top), dy(top - 33)], range=[0, 1], anchor=xn, visible=False)
        fig.add_trace(go.Bar(x=top_bins, y=ht, width=0.41, marker=dict(color=TEAL, line=dict(width=0)),
                             xaxis=xn, yaxis=yn, showlegend=False))
        note((left + right) / 2, top - 10, "<i>μ<sub>x</sub>,  σ<sup>2</sup><sub>x</sub></i>", 14, "#123")
        axis_id += 1
        xn, yn = f"x{axis_id}", f"y{axis_id}"
        layout[f"xaxis{axis_id}"] = dict(domain=[dx(right), dx(right + 41)], range=[0, 1], anchor=yn, visible=False)
        layout[f"yaxis{axis_id}"] = dict(domain=[dy(bot), dy(top)], range=[-5, 5], anchor=xn, visible=False)
        fig.add_trace(go.Bar(x=hr, y=right_bins, width=0.46, orientation="h", marker=dict(color=rcolor, line=dict(width=0)),
                             xaxis=xn, yaxis=yn, showlegend=False))
        note(right + 12, (top + bot) / 2, f"<i>μ<sub>{sub}</sub>,  σ<sup>2</sup><sub>{sub}</sub></i>", 14,
             "#123" if sub == "x" else "#701010", angle=90)
        axis_id += 1

fig.update_layout(
    width=W, height=H, margin=dict(l=0, r=0, t=0, b=0, autoexpand=False), paper_bgcolor="white", plot_bgcolor="rgba(0,0,0,0)",
    annotations=annotations, bargap=0, hovermode=False,
    legend=dict(orientation="h", x=dx(244), y=dy(332), xanchor="left", yanchor="top",
                bordercolor="#D8D8D8", borderwidth=1.5, bgcolor="white",
                font=dict(size=17, family=FONT, color=DARK), itemsizing="trace", itemwidth=43),
    **layout)
fig.write_html("out.html", config={"displayModeBar": False}, post_script="document.body.style.margin='0';")
